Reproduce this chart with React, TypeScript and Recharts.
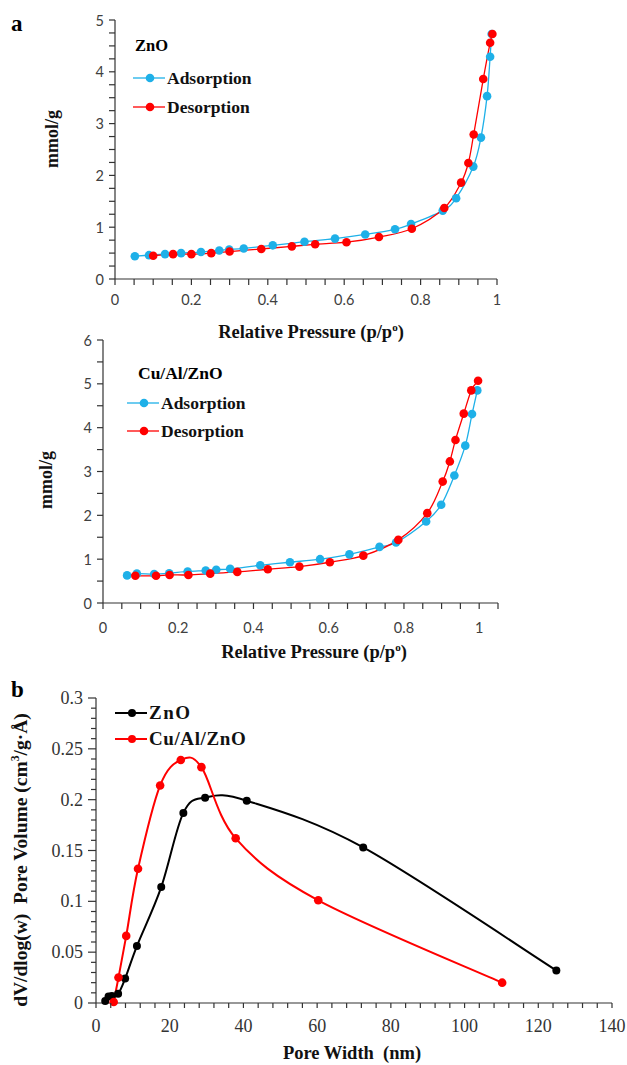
import React from 'react';
import { LineChart, Line, XAxis, YAxis } from 'recharts';

// ZnO isotherm (panel a, top)
const ZNO_ADS_P = [0.052, 0.089, 0.131, 0.173, 0.225, 0.273, 0.299, 0.337, 0.413, 0.496, 0.576, 0.655, 0.733, 0.775, 0.858, 0.893, 0.938, 0.958, 0.974, 0.982, 0.986];
const ZNO_ADS_V = [0.44, 0.46, 0.48, 0.5, 0.52, 0.55, 0.57, 0.59, 0.65, 0.72, 0.78, 0.86, 0.96, 1.06, 1.32, 1.56, 2.17, 2.73, 3.53, 4.29, 4.73];
const ZNO_DES_P = [0.1, 0.152, 0.2, 0.252, 0.3, 0.383, 0.463, 0.524, 0.606, 0.691, 0.777, 0.862, 0.906, 0.925, 0.939, 0.964, 0.982, 0.988];
const ZNO_DES_V = [0.45, 0.48, 0.48, 0.5, 0.53, 0.58, 0.63, 0.67, 0.71, 0.81, 0.97, 1.37, 1.86, 2.24, 2.79, 3.86, 4.56, 4.73];

// Cu/Al/ZnO isotherm (panel a, bottom)
const CU_ADS_P = [0.064, 0.09, 0.136, 0.176, 0.225, 0.273, 0.301, 0.338, 0.418, 0.497, 0.577, 0.655, 0.735, 0.779, 0.859, 0.899, 0.934, 0.963, 0.981, 0.995];
const CU_ADS_V = [0.63, 0.67, 0.66, 0.68, 0.72, 0.74, 0.76, 0.78, 0.86, 0.93, 1.0, 1.11, 1.28, 1.38, 1.86, 2.24, 2.91, 3.59, 4.31, 4.85];
const CU_DES_P = [0.086, 0.141, 0.177, 0.227, 0.285, 0.357, 0.438, 0.522, 0.603, 0.692, 0.785, 0.862, 0.903, 0.922, 0.937, 0.959, 0.979, 0.997];
const CU_DES_V = [0.62, 0.62, 0.64, 0.64, 0.67, 0.71, 0.77, 0.83, 0.93, 1.08, 1.44, 2.05, 2.77, 3.23, 3.72, 4.32, 4.85, 5.07];

// pore size distribution (panel b)
const PSD_ZNO_W = [2.5, 3.4, 4.3, 6.0, 7.9, 11.1, 17.7, 23.7, 29.6, 40.9, 72.5, 124.9];
const PSD_ZNO_V = [0.002, 0.0065, 0.007, 0.009, 0.024, 0.056, 0.114, 0.187, 0.202, 0.199, 0.153, 0.032];
const PSD_CU_W = [4.8, 6.1, 8.2, 11.4, 17.4, 23.0, 28.6, 37.9, 60.3, 110.2];
const PSD_CU_V = [0.001, 0.025, 0.066, 0.132, 0.214, 0.239, 0.232, 0.162, 0.101, 0.02];

// tick labels
const P_LABELS = [0, 0.2, 0.4, 0.6, 0.8, 1];
const TOP_Y_LABELS = [0, 1, 2, 3, 4, 5];
const MID_Y_LABELS = [0, 1, 2, 3, 4, 5, 6];
const W_LABELS = [0, 20, 40, 60, 80, 100, 120, 140];
const PV_LABELS = [0, 0.05, 0.1, 0.15, 0.2, 0.25, 0.3];

const BLUE = '#1eb0e8';
const RED = '#ff0000';
const SERIF = '"Liberation Serif", "Times New Roman", serif';
const SANS = 'Lato, "Open Sans", sans-serif';

const zip = (xs: number[], ys: number[]) => xs.map((x, i) => ({ x, y: ys[i] }));
const steps = (max: number, step: number) =>
  Array.from({ length: Math.round(max / step) + 1 }, (_, i) => Math.round(i * step * 1000) / 1000);
const isLabel = (v: number, labels: number[]) => labels.some((l) => Math.abs(l - v) < 1e-6);

// excel-style smoothed line (catmull-rom through every point)
function smooth(context: any) {
  let pts: number[][] = [];
  return {
    areaStart() {},
    areaEnd() {},
    lineStart() { pts = []; },
    point(x: number, y: number) { pts.push([+x, +y]); },
    lineEnd() {
      if (!pts.length) return;
      context.moveTo(pts[0][0], pts[0][1]);
      for (let i = 0; i < pts.length - 1; i++) {
        const p0 = pts[i - 1] || pts[i];
        const p1 = pts[i];
        const p2 = pts[i + 1];
        const p3 = pts[i + 2] || p2;
        context.bezierCurveTo(
          p1[0] + (p2[0] - p0[0]) / 6, p1[1] + (p2[1] - p0[1]) / 6,
          p2[0] - (p3[0] - p1[0]) / 6, p2[1] - (p3[1] - p1[1]) / 6,
          p2[0], p2[1],
        );
      }
    },
  };
}

function yTick(labels: number[], font: string, size: number, color: string, major: number, minor: number) {
  return (props: any) => {
    const { x, y, payload } = props;
    const lab = isLabel(payload.value, labels);
    const len = lab ? major : minor;
    return (
      <g>
        <line x1={x - len} y1={y} x2={x} y2={y} stroke="#333" strokeWidth={1.2} />
        {lab && (
          <text x={x - major - 5} y={y} textAnchor="end" dominantBaseline="central" fontFamily={font} fontSize={size} fill={color}>
            {payload.value}
          </text>
        )}
      </g>
    );
  };
}

function xTick(labels: number[], font: string, size: number, color: string, len: number, gap: number) {
  return (props: any) => {
    const { x, y, payload } = props;
    const lab = isLabel(payload.value, labels);
    return (
      <g>
        <line x1={x} y1={y} x2={x} y2={y + len} stroke="#333" strokeWidth={1.2} />
        {lab && (
          <text x={x} y={y + len + gap} textAnchor="middle" dominantBaseline="central" fontFamily={font} fontSize={size} fill={color}>
            {payload.value}
          </text>
        )}
      </g>
    );
  };
}

const abs = (left: number, top: number, extra: React.CSSProperties = {}): React.CSSProperties => ({
  position: 'absolute', left, top, whiteSpace: 'nowrap', ...extra,
});

const title = (cx: number, cy: number, size: number, rotate = false): React.CSSProperties =>
  abs(cx, cy, {
    transform: `translate(-50%, -50%)${rotate ? ' rotate(-90deg)' : ''}`,
    fontFamily: SERIF, fontWeight: 'bold', fontSize: size, color: '#111', lineHeight: 1,
  });

function LegendRow({ left, top, color, text, size, r, lw, ls = 0 }: { left: number; top: number; color: string; text: string; size: number; r: number; lw: number; ls?: number }) {
  return (
    <div style={abs(left, top - 12, { display: 'flex', alignItems: 'center', height: 24 })}>
      <svg width={32} height={24}>
        <line x1={0} y1={12} x2={32} y2={12} stroke={color} strokeWidth={lw} />
        <circle cx={17} cy={12} r={r} fill={color} />
      </svg>
      <span style={{ fontFamily: SERIF, fontWeight: 'bold', fontSize: size, letterSpacing: ls, color: '#111', marginLeft: 2 }}>{text}</span>
    </div>
  );
}

const axisLine = { stroke: '#333', strokeWidth: 1.2 };
const dotStyle = (c: string, r: number) => ({ r, fill: c, stroke: c, strokeWidth: 0 });

export default function App() {
  return (
    <div style={{ position: 'absolute', left: 0, top: 0, width: 627, height: 1065, background: '#fff', overflow: 'hidden' }}>
      {/* panel a, ZnO */}
      <div style={abs(0, 0)}>
        <LineChart width={627} height={340} margin={{ top: 20, right: 130, bottom: 31, left: 0 }}>
          <XAxis type="number" dataKey="x" domain={[0, 1]} ticks={steps(1, 0.05)} interval={0} height={30}
            tickSize={0} tickMargin={0} tickLine={false} axisLine={axisLine} tick={xTick(P_LABELS, SANS, 14.5, '#404040', 6, 14)} />
          <YAxis type="number" dataKey="y" domain={[0, 5]} ticks={steps(5, 0.25)} interval={0} width={115}
            tickSize={0} tickMargin={0} tickLine={false} axisLine={axisLine} tick={yTick(TOP_Y_LABELS, SANS, 14.5, '#404040', 6, 6)} />
          <Line data={zip(ZNO_ADS_P, ZNO_ADS_V)} dataKey="y" type={smooth as any} stroke={BLUE} strokeWidth={1.3} dot={dotStyle(BLUE, 4.3)} isAnimationActive={false} />
          <Line data={zip(ZNO_DES_P, ZNO_DES_V)} dataKey="y" type={smooth as any} stroke={RED} strokeWidth={1.3} dot={dotStyle(RED, 4.3)} isAnimationActive={false} />
        </LineChart>
      </div>

      {/* panel a, Cu/Al/ZnO */}
      <div style={abs(0, 320)}>
        <LineChart width={627} height={340} margin={{ top: 20, right: 129, bottom: 27, left: 0 }}>
          <XAxis type="number" dataKey="x" domain={[0, 1.05]} ticks={steps(1.05, 0.05)} interval={0} height={30}
            tickSize={0} tickMargin={0} tickLine={false} axisLine={axisLine} tick={xTick(P_LABELS, SANS, 14.5, '#404040', 6, 18)} />
          <YAxis type="number" dataKey="y" domain={[0, 6]} ticks={steps(6, 0.5)} interval={0} width={103}
            tickSize={0} tickMargin={0} tickLine={false} axisLine={axisLine} tick={yTick(MID_Y_LABELS, SANS, 14.5, '#404040', 6, 6)} />
          <Line data={zip(CU_ADS_P, CU_ADS_V)} dataKey="y" type={smooth as any} stroke={BLUE} strokeWidth={1.3} dot={dotStyle(BLUE, 4.3)} isAnimationActive={false} />
          <Line data={zip(CU_DES_P, CU_DES_V)} dataKey="y" type={smooth as any} stroke={RED} strokeWidth={1.3} dot={dotStyle(RED, 4.3)} isAnimationActive={false} />
        </LineChart>
      </div>

      {/* panel b, pore size distribution */}
      <div style={abs(0, 680)}>
        <LineChart width={627} height={385} margin={{ top: 18, right: 15, bottom: 32, left: 0 }}>
          <XAxis type="number" dataKey="x" domain={[0, 140]} ticks={steps(140, 4).concat([140]).filter((v, i, a) => a.indexOf(v) === i)} interval={0} height={30}
            tickSize={0} tickMargin={0} tickLine={false} axisLine={axisLine} tick={xTick(W_LABELS, SERIF, 18, '#333', 5, 18)} />
          <YAxis type="number" dataKey="y" domain={[0, 0.3]} ticks={steps(0.3, 0.01)} interval={0} width={96}
            tickSize={0} tickMargin={0} tickLine={false} axisLine={axisLine} tick={yTick(PV_LABELS, SERIF, 18, '#333', 8, 5)} />
          <Line data={zip(PSD_ZNO_W, PSD_ZNO_V)} dataKey="y" type={smooth as any} stroke="#000" strokeWidth={2} dot={dotStyle('#000', 4)} isAnimationActive={false} />
          <Line data={zip(PSD_CU_W, PSD_CU_V)} dataKey="y" type={smooth as any} stroke={RED} strokeWidth={2} dot={dotStyle(RED, 4.3)} isAnimationActive={false} />
        </LineChart>
      </div>

      {/* panel letters */}
      <div style={abs(11, 12, { fontFamily: SERIF, fontWeight: 'bold', fontSize: 23, lineHeight: 1 })}>a</div>
      <div style={abs(11, 678, { fontFamily: SERIF, fontWeight: 'bold', fontSize: 23, lineHeight: 1 })}>b</div>

      {/* axis titles */}
      <div style={title(311, 332, 18.5)}>Relative Pressure (p/p<sup style={{ fontSize: '0.6em' }}>o</sup>)</div>
      <div style={title(52, 139, 18, true)}>mmol/g</div>
      <div style={title(314, 652, 18.5)}>Relative Pressure (p/p<sup style={{ fontSize: '0.6em' }}>o</sup>)</div>
      <div style={title(46, 480, 18, true)}>mmol/g</div>
      <div style={title(352, 1053, 18.5)}>Pore Width&nbsp; (nm)</div>
      <div style={title(20, 860, 19.5, true)}>dV/dlog(w)&nbsp; Pore Volume (cm<sup style={{ fontSize: '0.6em' }}>3</sup>/g·Å)</div>

      {/* legends */}
      <div style={abs(135, 38, { fontFamily: SERIF, fontWeight: 'bold', fontSize: 16.5, lineHeight: 1 })}>ZnO</div>
      <LegendRow left={133} top={78} color={BLUE} text="Adsorption" size={17.5} r={4.3} lw={1.3} />
      <LegendRow left={133} top={107} color={RED} text="Desorption" size={17.5} r={4.3} lw={1.3} />

      <div style={abs(138, 365, { fontFamily: SERIF, fontWeight: 'bold', fontSize: 17.5, lineHeight: 1 })}>Cu/Al/ZnO</div>
      <LegendRow left={127} top={403} color={BLUE} text="Adsorption" size={17.5} r={4.3} lw={1.3} />
      <LegendRow left={127} top={431} color={RED} text="Desorption" size={17.5} r={4.3} lw={1.3} />

      <LegendRow left={115} top={713} color="#000" text="ZnO" size={19} r={4} lw={2} ls={1.5} />
      <LegendRow left={115} top={739} color={RED} text="Cu/Al/ZnO" size={19} r={4} lw={2} ls={0.6} />
    </div>
  );
}
